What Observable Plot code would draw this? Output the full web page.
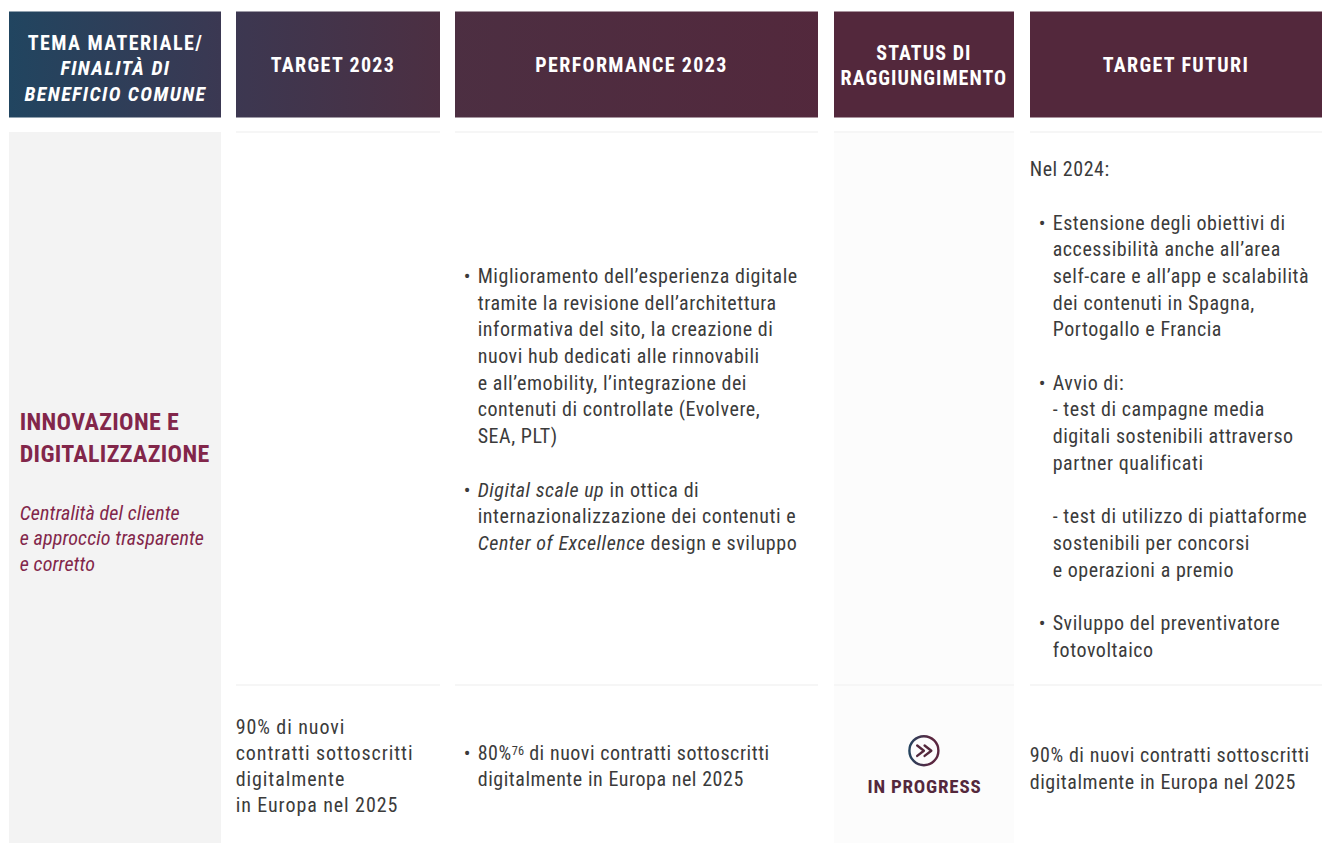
<!DOCTYPE html>
<html lang="it">
<head>
<meta charset="utf-8">
<title>Innovazione e digitalizzazione</title>
<script src="https://cdn.jsdelivr.net/npm/d3@7"></script>
<script src="https://cdn.jsdelivr.net/npm/@observablehq/plot@0.6"></script>
<style>
html,body{margin:0;padding:0;background:#fff;overflow:hidden}
text{font-stretch:75%}
.hdr text{letter-spacing:1.35px}
.hdr1 text{letter-spacing:1.45px}
.hdr4 text{letter-spacing:1.05px}
.body text{letter-spacing:.55px}
.wide text{letter-spacing:.92px}
.title text{letter-spacing:.35px}
.sub text{letter-spacing:.12px}
.status text{letter-spacing:.78px}
</style>
</head>
<body>
<div id="chart"></div>
<script>
// ---- Content ----
const headers = [
  ["TEMA MATERIALE/", "_FINALITÀ DI_", "_BENEFICIO COMUNE_"],
  ["TARGET 2023"],
  ["PERFORMANCE 2023"],
  ["STATUS DI", "RAGGIUNGIMENTO"],
  ["TARGET FUTURI"]
];
const themeTitle = ["INNOVAZIONE E", "DIGITALIZZAZIONE"];
const themeSubtitle = ["Centralità del cliente", "e approccio trasparente", "e corretto"];
const performanceRow1 = [
  "• Miglioramento dell’esperienza digitale",
  "  tramite la revisione dell’architettura",
  "  informativa del sito, la creazione di",
  "  nuovi hub dedicati alle rinnovabili",
  "  e all’emobility, l’integrazione dei",
  "  contenuti di controllate (Evolvere,",
  "  SEA, PLT)",
  "",
  "• _Digital scale up_ in ottica di",
  "  internazionalizzazione dei contenuti e",
  "  _Center of Excellence_ design e sviluppo"
];
const futureRow1 = [
  "Nel 2024:",
  "",
  "• Estensione degli obiettivi di",
  "  accessibilità anche all’area",
  "  self-care e all’app e scalabilità",
  "  dei contenuti in Spagna,",
  "  Portogallo e Francia",
  "",
  "• Avvio di:",
  "  - test di campagne media",
  "  digitali sostenibili attraverso",
  "  partner qualificati",
  "",
  "  - test di utilizzo di piattaforme",
  "  sostenibili per concorsi",
  "  e operazioni a premio",
  "",
  "• Sviluppo del preventivatore",
  "  fotovoltaico"
];
const targetRow2 = ["90% di nuovi", "contratti sottoscritti", "digitalmente", "in Europa nel 2025"];
const performanceRow2 = ["• 80%^76^ di nuovi contratti sottoscritti", "  digitalmente in Europa nel 2025"];
const futureRow2 = ["90% di nuovi contratti sottoscritti", "digitalmente in Europa nel 2025"];
const statusLabel = "IN PROGRESS";

// ---- Layout ----
const W = 1322, H = 843;
const colEdges = [[9, 221], [236, 440], [455, 818], [834, 1014], [1030, 1322]];
const headerBand = [11.5, 117.5];
const headerShiftX = [0, -5.5, -5.5, -0.6, -0.6];
const headerShiftY = [4, 0.7, 0.7, 1.3, 0.7];
const rowRules = [132, 685];
const LH = 26.7;
const textInk = "#3b3b3b", wine = "#82264a", deep = "#54283c";

const headerLH = 25.4;
const headerCells = colEdges.map(([x1, x2]) => ({x1, x2, y1: headerBand[0], y2: headerBand[1]}));
const headerLines = headers.flatMap((lines, c) => lines.map((t, i) => ({
  t, c, x: (colEdges[c][0] + colEdges[c][1]) / 2 + headerShiftX[c],
  y: (headerBand[0] + headerBand[1]) / 2 + headerShiftY[c] + (i - (lines.length - 1) / 2) * headerLH
})));
const rules = rowRules.flatMap(y => colEdges.slice(1).map(([x1, x2]) => ({x1, x2, y1: y - 1, y2: y + 1})));

// One block of text: a leading "• " becomes a hanging bullet, two spaces the hanging indent.
function block(lines, x, y0, lh = LH, bulletX = x - 14) {
  const out = [];
  lines.forEach((raw, i) => {
    if (!raw) return;
    const y = y0 + i * lh;
    if (raw.startsWith("• ")) {
      out.push({t: "•", x: bulletX, y});
      out.push({t: raw.slice(2), x, y});
    } else out.push({t: raw.trim(), x, y});
  });
  return out;
}
const bodyLines = [
  ...block(performanceRow1, 477.2, 276),
  ...block(futureRow1, 1052.2, 169.2).map(d => d.t === "Nel 2024:" ? {...d, x: 1029.2} : d),
  ...block(performanceRow2, 477.2, 753, 26),
  ...block(futureRow2, 1029.2, 755, 27)
];
const targetLines = block(targetRow2, 235.2, 727, 26);
const statusCenter = (colEdges[3][0] + colEdges[3][1]) / 2;
const iconX = 923.4, iconY = 750.2;
const chevrons = [0, 7.4].flatMap((o, k) => [-1, 0, 1].map(n => ({
  k, x: iconX + o + (n === 0 ? 0 : -6.7), y: iconY + n * 5.2
})));

const defs = () => {
  const ns = "http://www.w3.org/2000/svg";
  const d = document.createElementNS(ns, "defs");
  d.innerHTML = `
  <linearGradient id="headGrad" gradientUnits="userSpaceOnUse" x1="9" x2="834" y1="0" y2="0">
    <stop offset="0" stop-color="#214560"/>
    <stop offset="0.257" stop-color="#3b3852"/>
    <stop offset="0.523" stop-color="#4c2f42"/>
    <stop offset="1" stop-color="#53283c"/>
  </linearGradient>
  <linearGradient id="iconGrad" gradientUnits="userSpaceOnUse" x1="${iconX-16}" x2="${iconX+6}" y1="0" y2="0">
    <stop offset="0" stop-color="#214560"/>
    <stop offset="1" stop-color="#5a2740"/>
  </linearGradient>`;
  return d;
};

const FONT = "Roboto, sans-serif";
const headerText = (test, className) => Plot.text(headerLines.filter(d => test(d.c)), {x: "x", y: "y", text: "t", fill: "#fff", fontSize: 20, fontWeight: 700, textAnchor: "middle", className});
const plot = Plot.plot({
  width: W, height: H,
  margin: 0,
  x: {type: "linear", domain: [0, W], range: [0, W], axis: null},
  y: {type: "linear", domain: [0, H], range: [0, H], axis: null},
  style: {fontFamily: FONT, background: "#fff"},
  marks: [
    defs,
    Plot.rect(headerCells, {x1: "x1", x2: "x2", y1: "y1", y2: "y2", fill: "url(#headGrad)"}),
    Plot.rect([{x1: colEdges[0][0], x2: colEdges[0][1], y1: rowRules[0], y2: H}], {x1: "x1", x2: "x2", y1: "y1", y2: "y2", fill: "#f3f3f3"}),
    Plot.rect([{x1: colEdges[3][0], x2: colEdges[3][1], y1: rowRules[0], y2: H}], {x1: "x1", x2: "x2", y1: "y1", y2: "y2", fill: "#fcfcfc"}),
    Plot.rect(rules, {x1: "x1", x2: "x2", y1: "y1", y2: "y2", fill: "#f6f6f6"}),
    headerText(c => c === 0, "hdr1"),
    headerText(c => c === 3, "hdr4"),
    headerText(c => c !== 0 && c !== 3, "hdr"),
    Plot.text(themeTitle.map((t, i) => ({t, y: 422 + i * 32})), {x: () => 19.2, y: "y", text: "t", fill: wine, fontSize: 24, fontWeight: 700, textAnchor: "start", className: "title"}),
    Plot.text(themeSubtitle.map((t, i) => ({t, y: 513 + i * 25.5})), {x: () => 19.2, y: "y", text: "t", fill: wine, fontSize: 20, fontStyle: "italic", fontWeight: 400, textAnchor: "start", className: "sub"}),
    Plot.text(bodyLines, {x: "x", y: "y", text: "t", fill: textInk, fontSize: 20, textAnchor: "start", className: "body"}),
    Plot.text(targetLines, {x: "x", y: "y", text: "t", fill: textInk, fontSize: 20, textAnchor: "start", className: "wide"}),
    Plot.dot([{x: iconX, y: iconY}], {x: "x", y: "y", r: 14.5, stroke: "url(#iconGrad)", strokeWidth: 2.4, fill: "none"}),
    Plot.line(chevrons, {x: "x", y: "y", z: "k", stroke: deep, strokeWidth: 2.4, curve: "linear"}),
    Plot.text([statusLabel], {x: () => statusCenter, y: () => 786.6, text: d => d, fill: deep, fontSize: 19, fontWeight: 700, textAnchor: "middle", className: "status"})
  ]
});
document.getElementById("chart").append(plot);

// Inline styling of words: _italic_ and ^superscript^.
d3.select(plot).selectAll("text").each(function () {
  const s = this.textContent;
  if (!/[_^]/.test(s)) return;
  const el = d3.select(this);
  el.text(null);
  s.split(/(_[^_]+_|\^[^^]+\^)/).filter(Boolean).forEach(part => {
    if (part[0] === "_") el.append("tspan").attr("font-style", "italic").text(part.slice(1, -1));
    else if (part[0] === "^") {
      el.append("tspan").attr("font-size", "0.62em").attr("baseline-shift", "45%").attr("letter-spacing", "0").text(part.slice(1, -1));
    } else el.append("tspan").text(part);
  });
});
</script>
</body>
</html>
